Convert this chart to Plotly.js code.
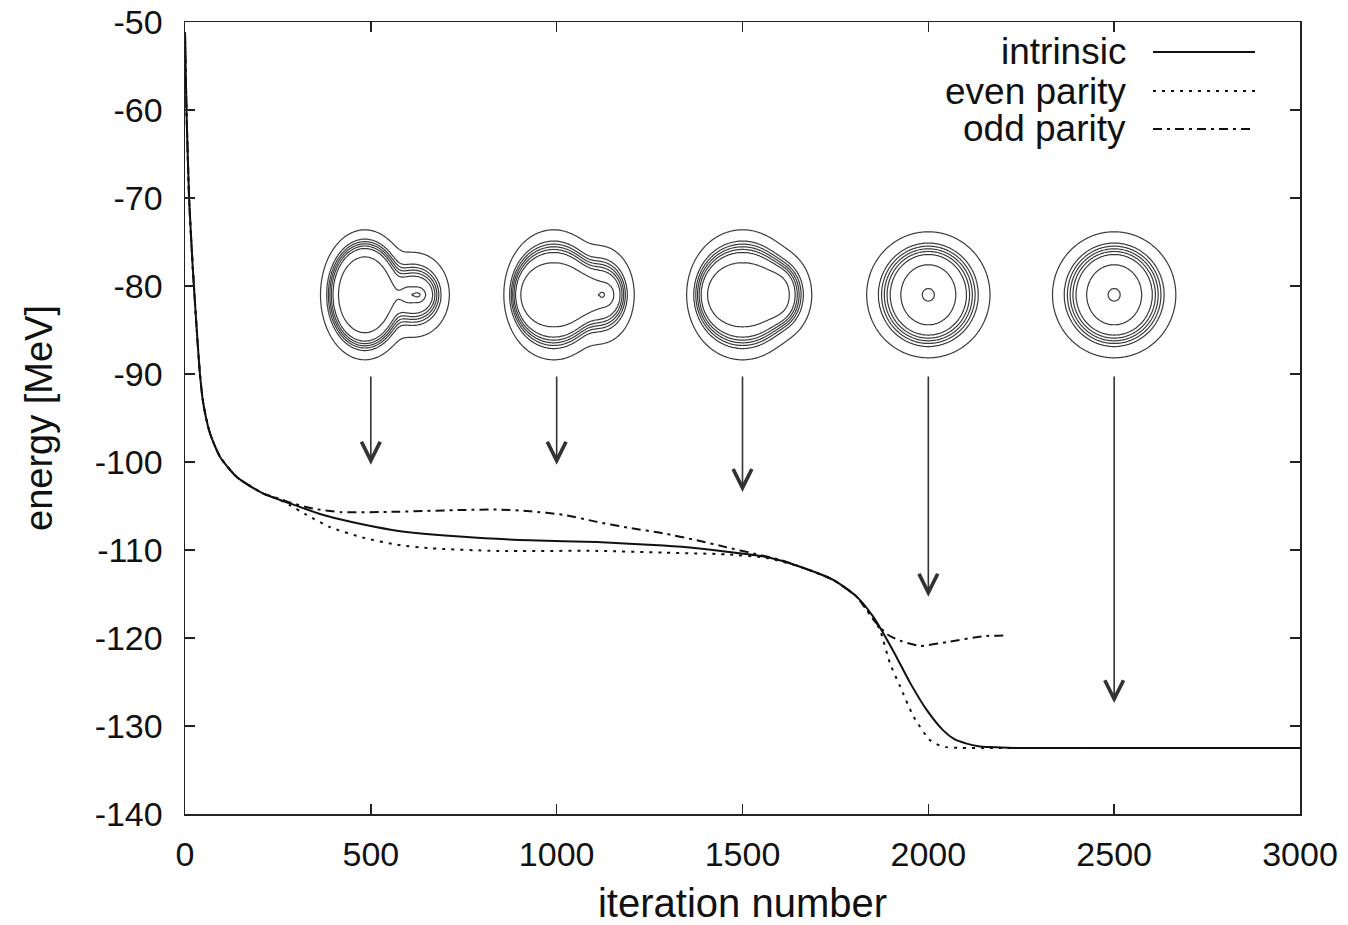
<!DOCTYPE html>
<html>
<head>
<meta charset="utf-8">
<script src="https://cdn.plot.ly/plotly-3.0.1.min.js"></script>
<style>
  html, body { margin: 0; padding: 0; background: #ffffff; }
  #chart { width: 1348px; height: 925px; }
</style>
</head>
<body>
<div id="chart"></div>
<script>
// ---- Energy during the imaginary-time iteration ----
const intrinsicIter = [0, 4, 11, 21, 31, 40, 49, 67, 94, 139, 211, 282, 363, 417, 480, 570, 749, 928, 1108, 1287, 1377, 1458, 1565, 1655, 1744, 1807, 1852, 1906, 1951, 1996, 2040, 2070, 2103, 2135, 2166, 2230, 2300, 3000];
const intrinsicEnergy = [-51.2, -60, -70, -78, -84.6, -89.9, -93.3, -96.7, -99.4, -101.7, -103.6, -104.7, -105.9, -106.5, -107.1, -107.8, -108.5, -108.9, -109.1, -109.5, -109.8, -110.2, -110.8, -111.9, -113.4, -115.3, -117.6, -121.5, -125.1, -128.2, -130.5, -131.5, -132.0, -132.3, -132.4, -132.5, -132.5, -132.5];

const evenIter = [0, 4, 11, 21, 31, 40, 49, 67, 94, 139, 211, 250, 282, 327, 390, 480, 570, 659, 839, 1108, 1287, 1458, 1565, 1655, 1744, 1807, 1852, 1870, 1897, 1924, 1960, 2004, 2030, 2049, 2090, 2148, 3000];
const evenEnergy = [-51.2, -60, -70, -78, -84.6, -89.9, -93.3, -96.7, -99.4, -101.7, -103.6, -104.2, -104.9, -106.0, -107.4, -108.6, -109.4, -109.8, -110.1, -110.1, -110.3, -110.5, -110.9, -111.9, -113.4, -115.3, -117.8, -119.1, -122.9, -125.5, -128.9, -131.6, -132.2, -132.4, -132.5, -132.5, -132.5];

const oddIter = [0, 4, 11, 21, 31, 40, 49, 67, 94, 139, 211, 250, 282, 345, 420, 570, 749, 839, 928, 1018, 1108, 1197, 1287, 1377, 1458, 1530, 1600, 1655, 1744, 1807, 1852, 1890, 1924, 1978, 2058, 2148, 2205];
const oddEnergy = [-51.2, -60, -70, -78, -84.6, -89.9, -93.3, -96.7, -99.4, -101.7, -103.6, -104.1, -104.6, -105.3, -105.7, -105.65, -105.45, -105.4, -105.6, -106.0, -106.8, -107.5, -108.1, -108.9, -109.7, -110.4, -111.1, -111.9, -113.4, -115.3, -117.9, -119.6, -120.3, -120.9, -120.4, -119.8, -119.7];

const seriesNames = ['intrinsic', 'even parity', 'odd parity'];

// ---- Axis ticks ----
const xTicks = [0, 500, 1000, 1500, 2000, 2500, 3000];
const yTicks = [-140, -130, -120, -110, -100, -90, -80, -70, -60, -50];

// ---- Density snapshots and their arrows ----
const snapshotIter = [500, 1000, 1500, 2000, 2500];
const arrowTipEnergy = [-100.3, -100.3, -103.4, -115.3, -127.4];
const arrowTailEnergy = -90.1;
const snapshotCenterEnergy = -81;

// contour levels of the density plots
const insetLevels = [0.07, 0.3, 0.4, 0.5, 0.6, 0.7, 0.92, 1.02];
// core and cluster: Fermi-shaped ellipses; peak: small gaussian bump (pixels)
const coreOffset       = [-6, -3, 0, 0, 0];
const coreRadiusX      = [35, 41, 45, 44, 44];
const coreRadiusY      = [51, 48, 48, 46, 46];
const coreDiffuseX     = [0.103, 0.083, 0.093, 0.155, 0.155];
const coreDiffuseY     = [0.106, 0.137, 0.137, 0.143, 0.143];
const clusterOffset    = [43, 43, 38, null, null];
const clusterRadiusX   = [23, 24, 18, 0, 0];
const clusterRadiusY   = [24.5, 30, 26, 0, 0];
const clusterDiffuseX  = [0.21, 0.17, 0.28, 0, 0];
const clusterDiffuseY  = [0.28, 0.24, 0.24, 0, 0];
const peakOffset       = [46, 45, 0, 0, 0];
const peakHeight       = [0.07, 0.05, 0, 0.045, 0.045];
const peakWidthX       = [4, 2.6, 1, 5.3, 5.3];
const peakWidthY       = [2.2, 2.6, 1, 5.3, 5.3];

// ---- Page geometry ----
const W = 1348, H = 925;
const M = {l: 185, r: 48, t: 22, b: 111};
const plotW = W - M.l - M.r, plotH = H - M.t - M.b;
const xRange = [0, 3000], yRange = [-140, -50];
const insetHalf = 80;   // half size of each snapshot panel, px

const ink = '#111111';
const frameColor = '#222222';
const fontFamily = '"Liberation Sans", Arial, Helvetica, sans-serif';

const lineStyles = [
  {color: ink, width: 2, dash: 'solid'},
  {color: ink, width: 2, dash: '3px,6px'},
  {color: ink, width: 2, dash: '9px,5px,3px,5px'}
];

const traces = [
  {x: intrinsicIter, y: intrinsicEnergy, name: seriesNames[0], type: 'scatter', mode: 'lines', line: Object.assign({shape: 'spline', smoothing: 0.6}, lineStyles[0]), hoverinfo: 'skip'},
  {x: evenIter, y: evenEnergy, name: seriesNames[1], type: 'scatter', mode: 'lines', line: Object.assign({shape: 'spline', smoothing: 0.6}, lineStyles[1]), hoverinfo: 'skip'},
  {x: oddIter, y: oddEnergy, name: seriesNames[2], type: 'scatter', mode: 'lines', line: Object.assign({shape: 'spline', smoothing: 0.6}, lineStyles[2]), hoverinfo: 'skip'}
];

// Fermi profile of an ellipse with direction-dependent surface thickness
function fermiEllipse(x, y, cx, rx, ry, tx, ty) {
  const u = (x - cx) / rx, v = y / ry;
  const q2 = u * u + v * v;
  const q = Math.sqrt(q2);
  const t = q2 > 0 ? (tx * u * u + ty * v * v) / q2 : tx;
  return 1 / (1 + Math.exp((q - 1) / t));
}

// density model of one snapshot
function density(f, x, y) {
  const core = fermiEllipse(x, y, coreOffset[f], coreRadiusX[f], coreRadiusY[f], coreDiffuseX[f], coreDiffuseY[f]);
  let cluster = 0;
  if (clusterOffset[f] !== null) {
    cluster = fermiEllipse(x, y, clusterOffset[f], clusterRadiusX[f], clusterRadiusY[f], clusterDiffuseX[f], clusterDiffuseY[f]);
  }
  let value = 1 - (1 - core) * (1 - cluster);
  if (peakHeight[f] > 0) {
    const px = (x - peakOffset[f]) / peakWidthX[f];
    const py = y / peakWidthY[f];
    value += peakHeight[f] * Math.exp(-0.5 * (px * px + py * py));
  }
  return value;
}

// map a density onto the index of the level list so that unit steps hit each level
function levelIndex(v) {
  const L = insetLevels, n = L.length;
  if (v <= L[0]) return 1 + (v - L[0]) / (L[1] - L[0]);
  for (let i = 1; i < n; i++) {
    if (v <= L[i]) return i + (v - L[i - 1]) / (L[i] - L[i - 1]);
  }
  return n + (v - L[n - 1]) / (L[n - 1] - L[n - 2]);
}

const grid = [];
for (let g = -insetHalf; g <= insetHalf; g += 1) grid.push(g);

const layout = {
  width: W, height: H,
  margin: {l: M.l, r: M.r, t: M.t, b: M.b, pad: 0},
  paper_bgcolor: '#ffffff', plot_bgcolor: '#ffffff',
  font: {family: fontFamily, size: 34, color: ink},
  showlegend: false,
  xaxis: {
    range: xRange, tickmode: 'array', tickvals: xTicks, ticktext: xTicks.map(String),
    ticks: 'inside', ticklen: 10, tickwidth: 1.5, tickcolor: frameColor,
    showline: true, linecolor: frameColor, linewidth: 1.5, mirror: 'ticks',
    showgrid: false, zeroline: false, ticklabelstandoff: 10,
    tickfont: {family: fontFamily, size: 34, color: ink},
    title: {text: 'iteration number', font: {family: fontFamily, size: 40, color: ink}, standoff: 16}
  },
  yaxis: {
    range: yRange, tickmode: 'array', tickvals: yTicks, ticktext: yTicks.map(String),
    ticks: 'inside', ticklen: 10, tickwidth: 1.5, tickcolor: frameColor,
    showline: true, linecolor: frameColor, linewidth: 1.5, mirror: 'ticks',
    showgrid: false, zeroline: false, ticklabelstandoff: 14,
    tickfont: {family: fontFamily, size: 34, color: ink},
    title: {text: 'energy [MeV]', font: {family: fontFamily, size: 38, color: ink}, standoff: 30}
  },
  annotations: [],
  shapes: []
};

// snapshot panels: contour plots placed above their arrows
const yFrac = (snapshotCenterEnergy - yRange[0]) / (yRange[1] - yRange[0]);
snapshotIter.forEach((it, f) => {
  const n = f + 2;
  const xFrac = (it - xRange[0]) / (xRange[1] - xRange[0]);
  const dx = insetHalf / plotW, dy = insetHalf / plotH;
  const z = grid.map(y => grid.map(x => levelIndex(density(f, x, y))));
  traces.push({
    type: 'contour', x: grid, y: grid, z: z,
    xaxis: 'x' + n, yaxis: 'y' + n,
    showscale: false, hoverinfo: 'skip',
    contours: {coloring: 'none', start: 1, end: insetLevels.length, size: 1},
    line: {color: '#3a3a3a', width: 1.2, smoothing: 1}
  });
  layout['xaxis' + n] = {domain: [xFrac - dx, xFrac + dx], range: [-insetHalf, insetHalf], anchor: 'y' + n, visible: false, fixedrange: true};
  layout['yaxis' + n] = {domain: [yFrac - dy, yFrac + dy], range: [-insetHalf, insetHalf], anchor: 'x' + n, visible: false, fixedrange: true};

  layout.annotations.push({
    x: it, y: arrowTipEnergy[f], ax: it, ay: arrowTailEnergy,
    xref: 'x', yref: 'y', axref: 'x', ayref: 'y',
    text: '', showarrow: true, arrowhead: 5, arrowsize: 2.3, arrowwidth: 1.6, arrowcolor: '#333333'
  });
});

// key: text on the left, line sample on the right
const keyTextRight = 1128, keySampleLeft = 1153, keySampleRight = 1255;
const keyRows = [52, 91, 129];
const toPaperX = px => (px - M.l) / plotW;
const toPaperY = py => (H - M.b - py) / plotH;
seriesNames.forEach((name, i) => {
  layout.annotations.push({
    xref: 'paper', yref: 'paper', x: toPaperX(keyTextRight), y: toPaperY(keyRows[i]),
    xanchor: 'right', yanchor: 'middle', text: name, showarrow: false,
    font: {family: fontFamily, size: 37, color: ink}
  });
  layout.shapes.push({
    type: 'line', xref: 'paper', yref: 'paper',
    x0: toPaperX(keySampleLeft), x1: toPaperX(keySampleRight),
    y0: toPaperY(keyRows[i]), y1: toPaperY(keyRows[i]),
    line: {color: ink, width: lineStyles[i].width, dash: lineStyles[i].dash}
  });
});

Plotly.newPlot('chart', traces, layout, {staticPlot: true, displayModeBar: false});
</script>
</body>
</html>
